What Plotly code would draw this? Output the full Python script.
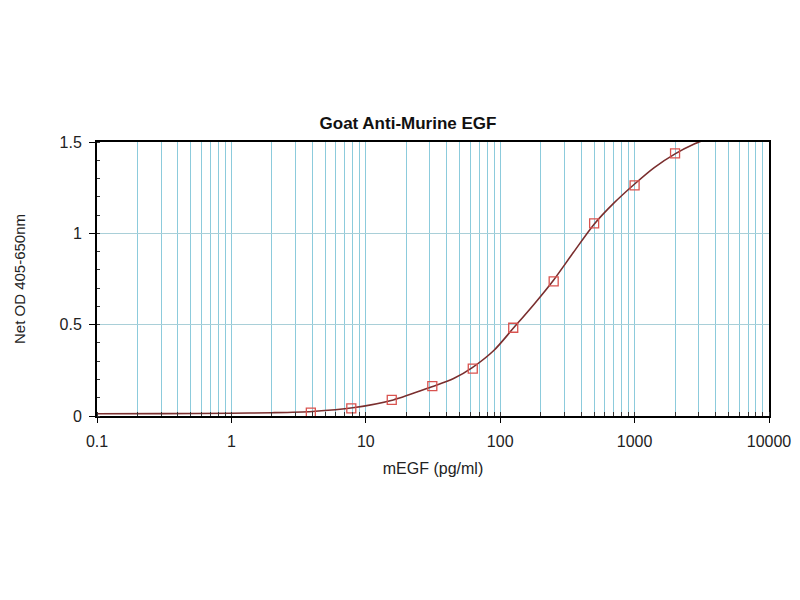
import plotly.graph_objects as go

# standard points (pg/ml vs net OD)
conc = [3.9, 7.8, 15.6, 31.25, 62.5, 125, 250, 500, 1000, 2000]
od = [0.018, 0.042, 0.088, 0.164, 0.259, 0.483, 0.737, 1.055, 1.263, 1.438]

# fitted curve
fit_x = [0.1, 0.3, 1, 2, 4, 8, 16, 31, 45, 62, 90, 125, 180, 250, 350, 500, 700, 1000, 1400, 2000, 2800, 3400]
fit_y = [0.012, 0.013, 0.015, 0.018, 0.025, 0.045, 0.088, 0.16, 0.205, 0.265, 0.36, 0.48, 0.615, 0.745, 0.895,
         1.05, 1.165, 1.27, 1.36, 1.435, 1.49, 1.515]

fig = go.Figure()
fig.add_trace(go.Scatter(x=fit_x, y=fit_y, mode="lines",
                         line=dict(color="#7a2e2e", width=1.6, shape="spline", smoothing=0.8),
                         hoverinfo="skip", showlegend=False))
fig.add_trace(go.Scatter(x=conc, y=od, mode="markers",
                         marker=dict(symbol="square-open", size=9, color="#d9534f", line=dict(width=1.3)),
                         showlegend=False))

fig.update_layout(
    width=800, height=600,
    paper_bgcolor="white", plot_bgcolor="white",
    margin=dict(l=89, r=39, t=134, b=192),
    font=dict(family="Liberation Sans, Arial", size=16, color="#222"),
    title=dict(text="<b>Goat Anti-Murine EGF</b>", x=0.5, xanchor="center", y=0.808, yanchor="middle",
               font=dict(size=17, color="#111")),
)
fig.update_xaxes(type="log", range=[-1, 4],
                 tickvals=[0.1, 1, 10, 100, 1000, 10000],
                 ticktext=["0.1", "1", "10", "100", "1000", "10000"],
                 showgrid=True, gridcolor="#8ccbdc", gridwidth=1.2,
                 minor=dict(dtick="D1", showgrid=True, gridcolor="#8ccbdc", gridwidth=1.2,
                            ticks="inside", ticklen=4, tickcolor="#333"),
                 showline=True, linecolor="black", linewidth=2, mirror=True,
                 ticks="outside", ticklen=5, tickcolor="black", ticklabelstandoff=5,
                 title=dict(text="mEGF (pg/ml)", font=dict(size=16), standoff=14))
fig.update_yaxes(range=[0, 1.5], tickvals=[0, 0.5, 1, 1.5], ticktext=["0", "0.5", "1", "1.5"],
                 showgrid=True, gridcolor="#a9cfd8", gridwidth=1, zeroline=False,
                 minor=dict(dtick=0.1, ticks="inside", ticklen=3, tickcolor="#333", showgrid=False),
                 showline=True, linecolor="black", linewidth=2, mirror=True,
                 ticks="outside", ticklen=6, tickcolor="black", ticklabelstandoff=4,
                 title=dict(text="Net OD 405-650nm", font=dict(size=15), standoff=30))

fig.write_html("out.html")
